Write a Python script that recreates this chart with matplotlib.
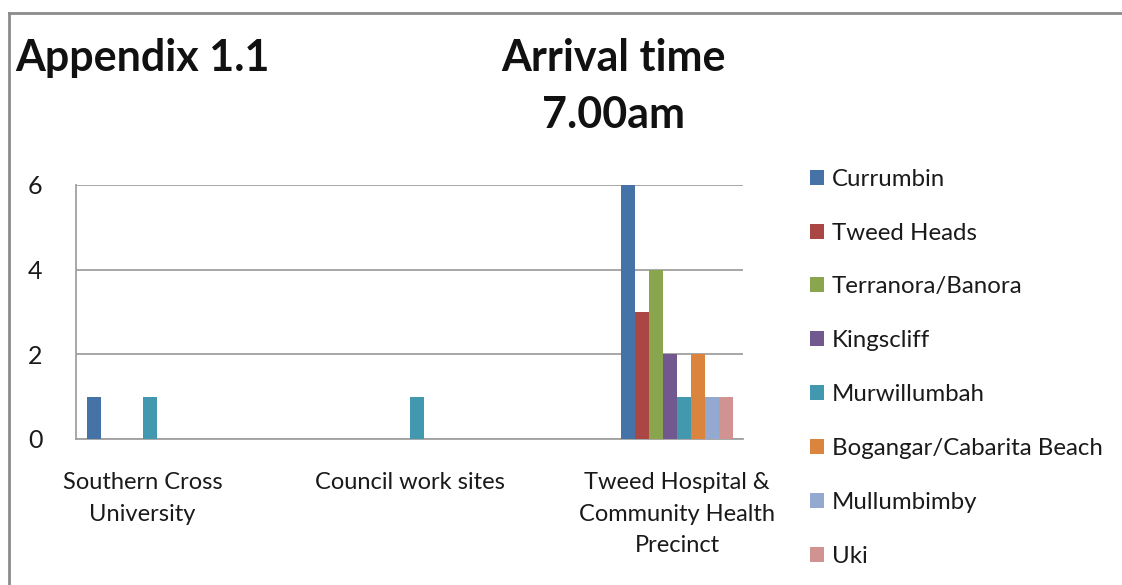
import matplotlib.pyplot as plt
from matplotlib.lines import Line2D
import numpy as np

plt.rcParams['font.family'] = ['Lato', 'DejaVu Sans']

# chart data
sites = ["Southern Cross\nUniversity", "Council work sites",
         "Tweed Hospital &\nCommunity Health\nPrecinct"]
suburbs = ["Currumbin", "Tweed Heads", "Terranora/Banora", "Kingscliff",
           "Murwillumbah", "Bogangar/Cabarita Beach", "Mullumbimby", "Uki"]
currumbin = [1, 0, 6]
tweed_heads = [0, 0, 3]
terranora = [0, 0, 4]
kingscliff = [0, 0, 2]
murwillumbah = [1, 1, 1]
bogangar = [0, 0, 2]
mullumbimby = [0, 0, 1]
uki = [0, 0, 1]
counts = [currumbin, tweed_heads, terranora, kingscliff,
          murwillumbah, bogangar, mullumbimby, uki]

colors = ["#4572A7", "#AA4643", "#89A54E", "#71588F",
          "#4198AF", "#DB843D", "#93A9CF", "#D19392"]

W, H = 1122, 585
fig = plt.figure(figsize=(W / 100, H / 100), dpi=100)
ax = fig.add_axes([76 / W, 1 - 439 / H, (743 - 76) / W, (439 - 185) / H])

x = np.arange(len(sites))
bw = 0.0524
n = len(suburbs)
for i, (name, vals) in enumerate(zip(suburbs, counts)):
    ax.bar(x + (i - (n - 1) / 2) * bw, vals, width=bw, color=colors[i],
           label=name, zorder=3)

ax.set_xlim(-0.249, 2.247)
ax.set_ylim(0, 6)
ax.set_yticks([0, 2, 4, 6])
ax.yaxis.grid(True, color="#a0a0a0", linewidth=1.3, zorder=0)
ax.set_xticks(x)
ax.set_xticklabels(sites, fontsize=17, color="#1a1a1a", linespacing=1.62,
                   va="top")
ax.tick_params(axis="x", length=0, pad=24)
ax.tick_params(axis="y", length=0, pad=24, labelsize=18, labelcolor="#1a1a1a")
for s in ["top", "right"]:
    ax.spines[s].set_visible(False)
for s in ["left", "bottom"]:
    ax.spines[s].set_color("#a0a0a0")
    ax.spines[s].set_linewidth(1.3)

leg = fig.legend(loc="upper left", bbox_to_anchor=(800 / W, 1 - 159 / H),
                 frameon=False, fontsize=17.3, handlelength=0.58,
                 handleheight=0.58, handletextpad=0.35, labelspacing=1.37,
                 borderaxespad=0, labelcolor="#1a1a1a")

fig.text(15 / W, 1 - 58 / H, "Appendix 1.1", fontsize=31, fontweight="bold",
         ha="left", va="center", color="#111111")
fig.text(613 / W, 1 - 58 / H, "Arrival time", fontsize=31, fontweight="bold",
         ha="center", va="center", color="#111111")
fig.text(613 / W, 1 - 115 / H, "7.00am", fontsize=31, fontweight="bold",
         ha="center", va="center", color="#111111")

# outer chart frame
fig.add_artist(Line2D([9 / W, 9 / W], [0, 1 - 13 / H], color="#8c8c8c",
                      linewidth=2, transform=fig.transFigure))
fig.add_artist(Line2D([9 / W, 1], [1 - 13 / H, 1 - 13 / H], color="#8c8c8c",
                      linewidth=2, transform=fig.transFigure))

fig.savefig("out.png", dpi=100)
